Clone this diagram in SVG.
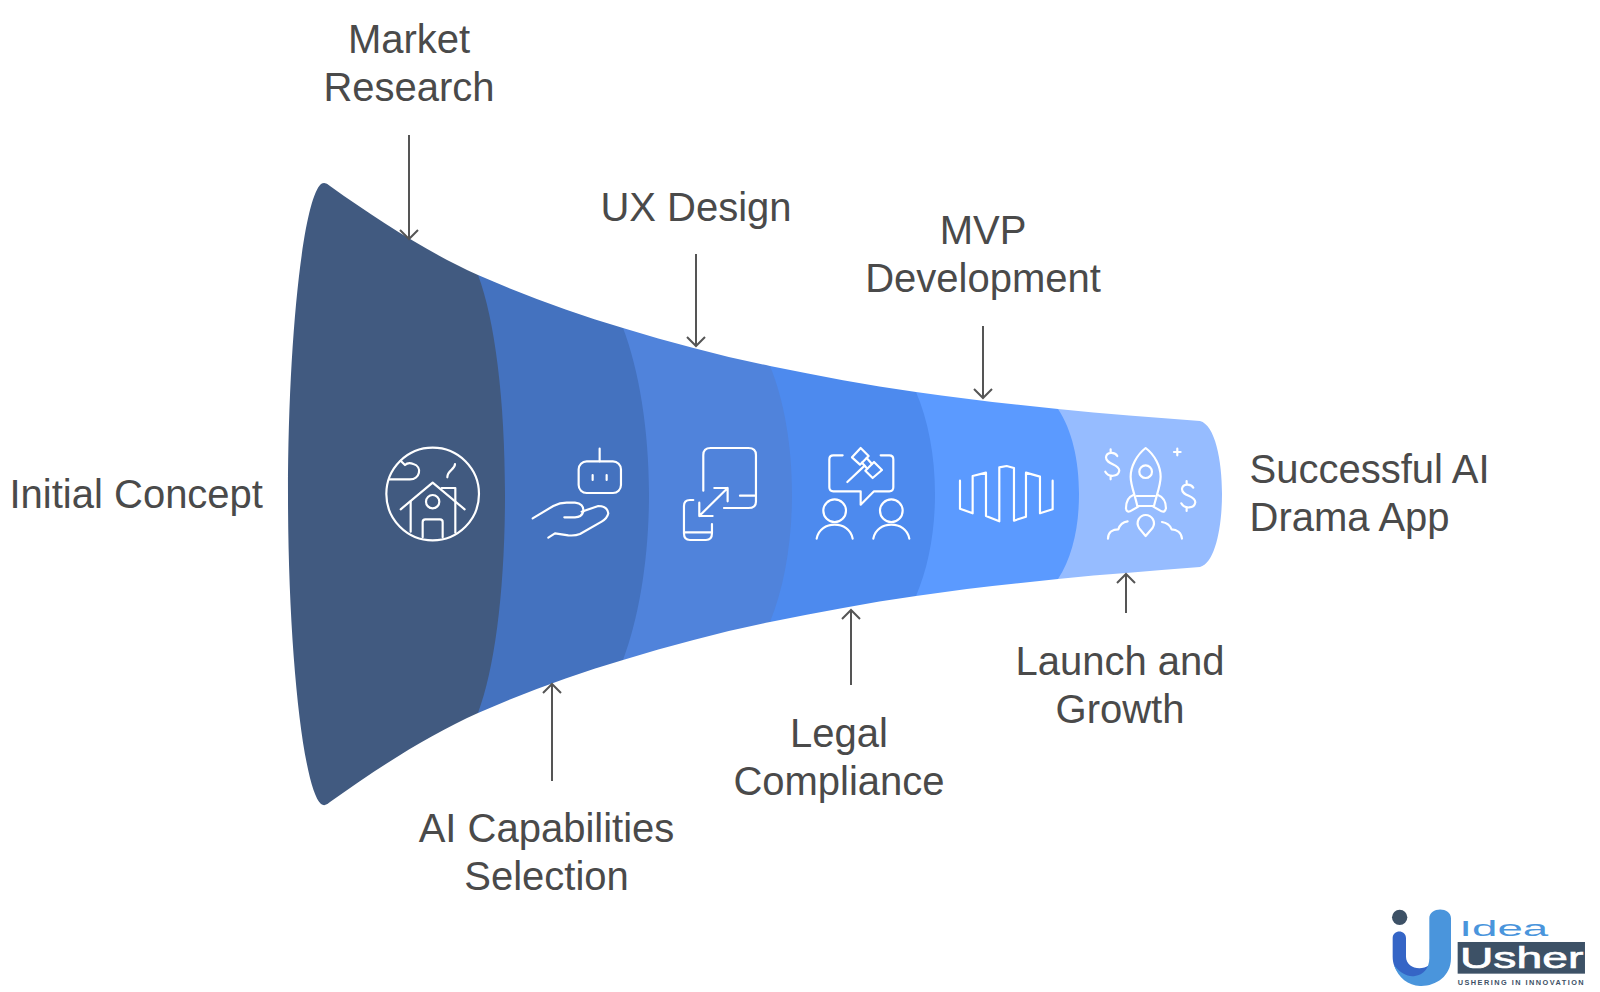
<svg xmlns="http://www.w3.org/2000/svg" width="1600" height="992" viewBox="0 0 1600 992">
<style>
.lbl{font-family:"Liberation Sans",Arial,sans-serif;font-size:40px;fill:#4a4a4a}
.mid{text-anchor:middle}
.ic{fill:none;stroke:#fff;stroke-width:6.5;stroke-linecap:round;stroke-linejoin:round}
.conn{fill:none;stroke:#555;stroke-width:2}
</style>
<defs>
<marker id="arr" viewBox="0 0 20 20" refX="17" refY="10" markerWidth="20" markerHeight="20" markerUnits="userSpaceOnUse" orient="auto"><path d="M8 1L17 10L8 19" fill="none" stroke="#555" stroke-width="2"/></marker>
</defs>
<rect width="1600" height="992" fill="#fff"/>
<g id="node-successful-app">
<path fill="#96bcff" d="M1058 409C1105 414 1153 417 1200 421C1215 425 1222 460 1222 494C1222 528 1215 563 1200 567C1153 571 1105 574 1058 579L1040 494Z"/>
<text class="lbl" x="1249.5" y="483">Successful AI</text><text class="lbl" x="1249.5" y="531">Drama App</text>
</g>
<g id="node-launch-growth">
<path fill="#5b9aff" d="M916 392C963 399 1011 404 1058 409C1072 430 1079 460 1079 494C1079 528 1072 558 1058 579C1011 584 963 589 916 596L900 494Z"/>
<text class="lbl mid" x="1120" y="675">Launch and</text><text class="lbl mid" x="1120" y="723">Growth</text>
</g>
<g id="node-mvp">
<path fill="#4d8aee" d="M770 366C819 376 867 385 916 392C928 420 935 455 935 494C935 533 928 568 916 596C867 603 819 612 770 622L750 494Z"/>
<text class="lbl mid" x="983" y="244">MVP</text><text class="lbl mid" x="983" y="292">Development</text>
</g>
<g id="node-legal">
<path fill="#5083db" d="M623 328C672 343 721 356 770 366C784 400 792 445 792 494C792 543 784 588 770 622C721 632 672 645 623 660L600 494Z"/>
<text class="lbl mid" x="839" y="747">Legal</text><text class="lbl mid" x="839" y="795">Compliance</text>
</g>
<g id="node-ux">
<path fill="#4472bf" d="M478 275C526 296 575 314 623 328C639 370 649 430 649 494C649 558 639 618 623 660C575 674 526 692 478 713L450 494Z"/>
<text class="lbl mid" x="696" y="221">UX Design</text>
</g>
<g id="node-initial">
<path fill="#415a80" d="M321 184Q325 181 330 186C379 221 429 253 478 275C495 320 505 400 505 494C505 588 495 668 478 713C429 735 379 767 330 802Q325 807 321 804C303 788 288 648 288 494C288 340 303 200 321 184Z"/>
<text class="lbl" x="9.5" y="507.5">Initial Concept</text>
</g>
<g id="node-market">
<text class="lbl mid" x="409" y="53">Market</text><text class="lbl mid" x="409" y="101">Research</text>
</g>
<g id="node-ai">
<text class="lbl mid" x="546.5" y="842">AI Capabilities</text><text class="lbl mid" x="546.5" y="890">Selection</text>
</g>
<g id="connectors">
<path class="conn" marker-end="url(#arr)" d="M409 135V239"/>
<path class="conn" marker-end="url(#arr)" d="M696 254V346"/>
<path class="conn" marker-end="url(#arr)" d="M983 326V398"/>
<path class="conn" marker-end="url(#arr)" d="M552 781V684"/>
<path class="conn" marker-end="url(#arr)" d="M851 685V610"/>
<path class="conn" marker-end="url(#arr)" d="M1126 613V574"/>
</g>
<g id="icons-a" transform="translate(360 420) scale(.3333)">
<g id="icon-home" class="ic">
<circle cx="218" cy="222" r="139"/>
<path d="M88 178H150C180 178 188 140 160 132C150 128 140 130 135 135L122 122"/>
<path d="M285 132C285 150 262 150 262 172"/>
<path d="M122 268L218 188L314 268"/>
<path d="M152 244V335M245 204H286V338"/>
<circle cx="218" cy="245" r="20"/>
<path d="M188 352V306Q188 298 196 298H240Q248 298 248 306V352"/>
</g>
<g id="icon-robot" class="ic">
<path d="M719 86V124"/>
<rect x="656" y="124" width="127" height="95" rx="24"/>
<path d="M698 165V180M740 165V180"/>
<path d="M518 295L580 258Q600 248 620 248H645Q672 250 670 275Q665 292 645 292H613"/>
<path d="M665 275L715 258Q742 258 745 280Q742 295 725 305L660 342Q645 348 625 346L585 340L565 353"/>
</g>
<g id="icon-resize" class="ic">
<path d="M1030 212V105Q1030 84 1052 84H1165Q1188 84 1188 105V245Q1188 264 1165 264H1092M1140 227H1188"/>
<path d="M1018 288L1103 204M1063 204H1103V244M1018 248V288H1058"/>
<path d="M1000 240H990Q972 240 972 258V340Q972 360 990 360H1038Q1056 360 1056 340V312M972 337H1056"/>
</g>
</g>
<g id="icons-b" transform="translate(790 420) scale(.3333)">
<g id="icon-legal" class="ic">
<path d="M158 106H130Q118 106 118 118V202Q118 214 130 214H212V254L252 214H298Q310 214 310 202V118Q310 106 298 106H272"/>
<path d="M172 186L224 137"/>
<path d="M212 84L236 108L210 134L186 112ZM252 126L276 150L248 174L226 152Z"/>
<path d="M230 114L246 132M216 128L232 146"/>
<circle cx="134" cy="272" r="34"/><circle cx="304" cy="272" r="34"/>
<path d="M80 356C90 300 178 300 188 356M250 356C260 300 348 300 358 356"/>
</g>
<g id="icon-mvp" class="ic">
<path d="M510 182V266L548 280V168L588 158V288L628 304V142L650 138L672 144V302L708 290V158L750 170V280L788 268V182"/>
</g>
<g id="icon-rocket" class="ic">
<path d="M982 108C975 95 950 95 948 112C948 135 988 130 988 152C985 172 955 172 946 155M962 88V98M962 168V178"/>
<path d="M1210 203C1203 190 1178 190 1176 207C1176 230 1216 225 1216 247C1213 267 1183 267 1174 250M1190 183V193M1190 263V273"/>
<path d="M1067 84C1040 105 1022 140 1022 170C1022 195 1035 225 1042 258H1092C1100 225 1112 195 1112 170C1112 140 1095 105 1067 84Z"/>
<circle cx="1067" cy="155" r="19"/>
<path d="M1040 228H1095"/>
<path d="M1030 225C1012 232 1008 250 1008 265Q1010 278 1020 274L1045 260M1104 225C1122 232 1128 250 1128 265Q1125 278 1115 274L1090 260"/>
<path d="M1067 348L1048 325C1035 305 1050 285 1067 285C1085 285 1100 305 1087 325Z"/>
<path d="M954 356C954 335 970 328 985 328C990 312 1000 306 1013 304M1116 306C1130 308 1140 315 1145 328C1160 328 1175 338 1176 356"/>
<path d="M1162 86V106M1152 96H1172"/>
</g>
</g>
<g id="logo" transform="translate(1370 890) scale(.3333)">
<circle cx="89" cy="82" r="23" fill="#3d5166"/>
<path fill="#3565c6" d="M68 145C68 118 108 118 108 145V200C108 232 150 245 178 225V250C130 285 68 260 68 200Z"/>
<path fill="#4a95dc" d="M178 85C178 50 243 50 243 85V205C243 260 195 290 150 288C115 286 85 265 72 225C90 250 115 262 135 258C160 255 178 235 178 205Z"/>
<rect x="263" y="156" width="382" height="95" fill="#3d5166"/>
<text x="268" y="138" textLength="267" lengthAdjust="spacingAndGlyphs" font-family="Liberation Sans,Arial,sans-serif" font-size="66" fill="#4a95dc">Idea</text>
<text x="270" y="235" textLength="370" lengthAdjust="spacingAndGlyphs" font-family="Liberation Sans,Arial,sans-serif" font-size="90" stroke="#fff" stroke-width="2" fill="#fff">Usher</text>
<text x="263" y="285" textLength="378" lengthAdjust="spacing" font-family="Liberation Sans,Arial,sans-serif" font-weight="700" font-size="22" fill="#3d5166">USHERING IN INNOVATION</text>
</g>
</svg>
